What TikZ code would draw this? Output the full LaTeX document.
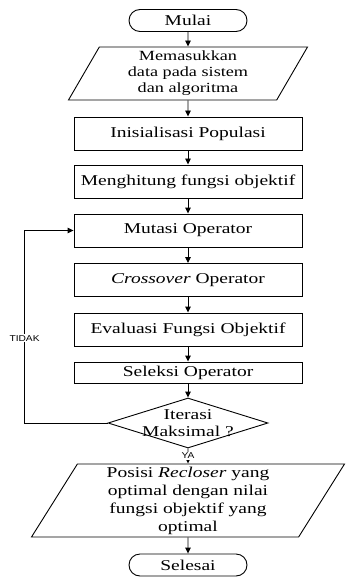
\documentclass[tikz,border=0pt]{standalone}
\usepackage{fontspec}
\setmainfont{Liberation Serif}[FakeStretch=1.3]
\setsansfont{Liberation Sans}[FakeStretch=1.2]
\usetikzlibrary{arrows.meta, shapes.geometric, calc}

\begin{document}
\begin{tikzpicture}[x=1pt, y=-1pt, >={Triangle[length=6pt, width=5.5pt]}, line width=0.9pt,
    base/.style={draw, align=center, font=\fontsize{15}{18}\selectfont},
    process/.style={base, rectangle, minimum width=228pt, minimum height=33pt, inner sep=1pt},
    terminal/.style={base, rectangle, rounded corners=11pt, minimum width=118pt, minimum height=22pt, inner sep=1pt},
    io/.style={base, trapezium, trapezium left angle=56.6, trapezium right angle=123.4,
        trapezium stretches body, inner xsep=2pt, inner ysep=1pt},
    decision/.style={draw, diamond, minimum width=160pt, minimum height=50pt, inner sep=0pt},
    tag/.style={font=\sffamily\fontsize{8.5}{10}\selectfont, fill=white, inner sep=1pt}]
    \useasboundingbox (0,0) rectangle (345,585);

    % steps of the algorithm
    \node[terminal] (mulai) at (188,20.5) {Mulai};
    \node[io, minimum width=239pt, minimum height=53pt, font=\fontsize{14}{16}\selectfont] (input) at (188,73.5)
        {Memasukkan\\data pada sistem\\dan algoritma};
    \node[process] (init) at (188,133.5) {Inisialisasi Populasi};
    \node[process] (hitung) at (188,181.5) {Menghitung fungsi objektif};
    \node[process] (mutasi) at (188,230.5) {Mutasi Operator};
    \node[process] (cross) at (188,280) {\textit{Crossover} Operator};
    \node[process] (eval) at (188,329.5) {Evaluasi Fungsi Objektif};
    \node[process, minimum height=21pt] (seleksi) at (188,372.5) {Seleksi Operator};
    \node[decision] (iter) at (188,423) {};
    \node[align=center, font=\fontsize{15}{17}\selectfont, inner sep=0pt] (itertext) at (iter) {Iterasi\\Maksimal ?};
    \node[io, minimum width=313pt, minimum height=73pt] (output) at (188,500.5)
        {Posisi \textit{Recloser} yang\\optimal dengan nilai\\fungsi objektif yang\\optimal};
    \node[terminal] (selesai) at (188,565) {Selesai};

    % main flow
    \foreach \a/\b in {mulai/input, input/init, init/hitung, hitung/mutasi, mutasi/cross,
                       cross/eval, eval/seleksi, seleksi/iter, output/selesai}
        \draw[->] (\a.south) -- (\b.north);
    \draw[->] (iter.south) -- node[tag]{YA} (output.north);

    % back to mutation while not finished
    \draw[->] (iter.west) -| node[tag, pos=0.72]{TIDAK} ($(mutasi.west)+(-49,0)$) -- (mutasi.west);
\end{tikzpicture}
\end{document}
